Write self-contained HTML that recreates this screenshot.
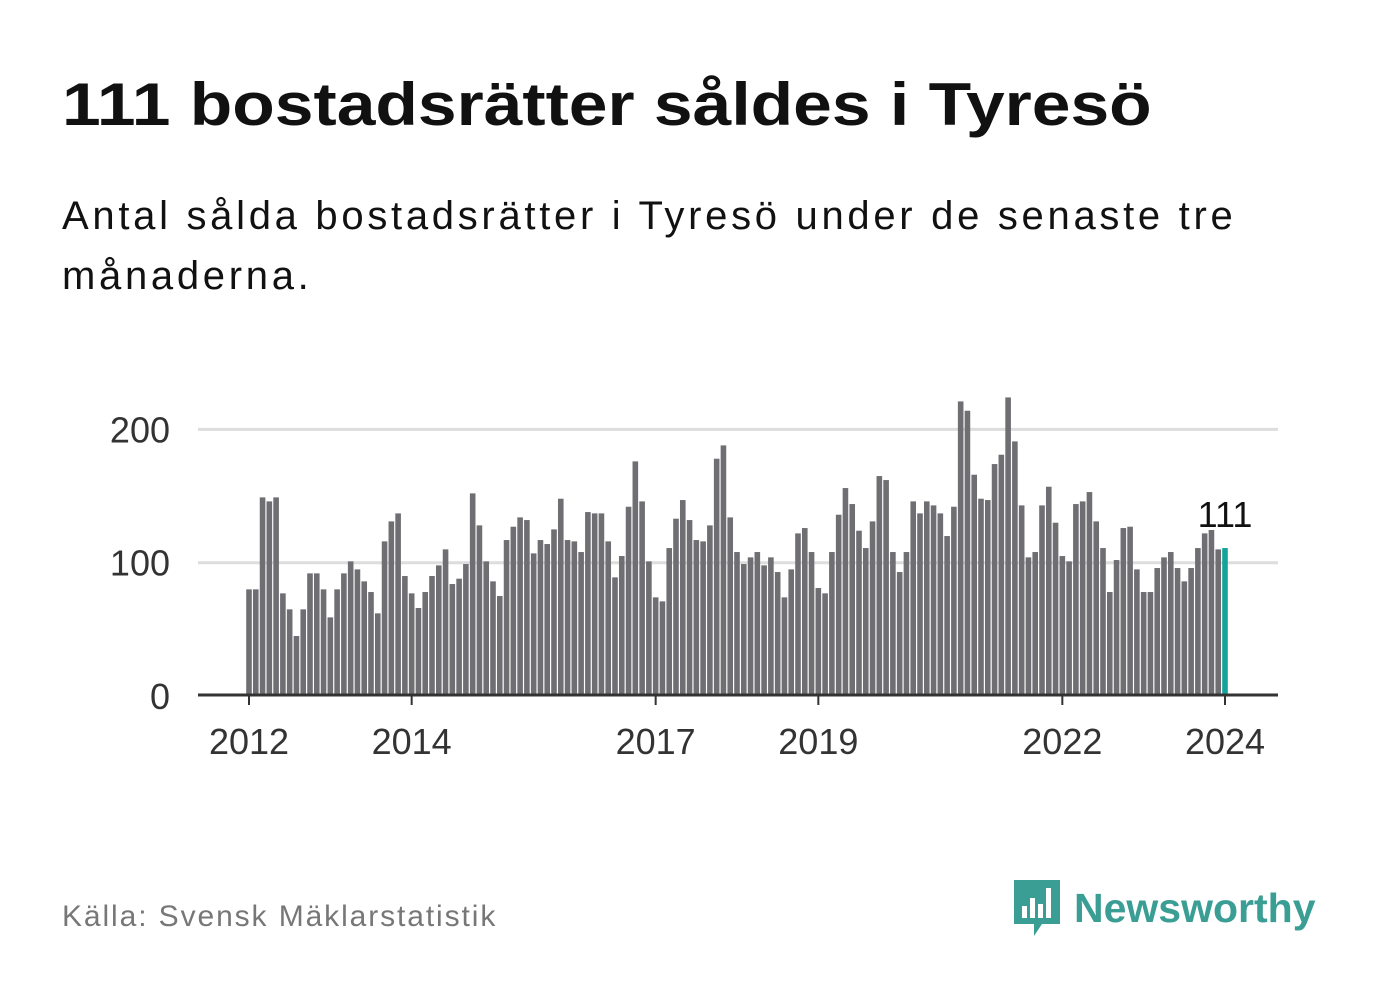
<!DOCTYPE html>
<html><head><meta charset="utf-8">
<style>
body{margin:0;width:1382px;height:999px;background:#fff;font-family:"Liberation Sans",sans-serif;overflow:hidden;position:relative}
.t{position:absolute;left:62px;top:70px;font-size:60px;font-weight:bold;color:#111;white-space:nowrap;transform:scaleX(1.16);transform-origin:0 0}
.s{position:absolute;left:62px;top:186px;font-size:40px;line-height:60px;color:#111;width:1300px;letter-spacing:3.7px}
.src{position:absolute;left:62px;top:900px;font-size:30px;color:#777;letter-spacing:1.9px}
.logo{position:absolute;left:1012px;top:878px;display:flex;align-items:center}
.logo span{font-size:41px;font-weight:bold;color:#3a9e94;margin-left:12px}
</style></head><body>
<div class="t">111 bostadsrätter såldes i Tyresö</div>
<div class="s">Antal sålda bostadsrätter i Tyresö under de senaste tre<br>månaderna.</div>
<svg id="chart" width="1382" height="999" style="position:absolute;left:0;top:0"></svg>
<div class="src">Källa: Svensk Mäklarstatistik</div>
<div class="logo">
<svg width="50" height="60"><path d="M2 2h46v44H30l-8 12v-12H2z" fill="#3a9e94"/><rect x="10" y="28" width="5" height="12" fill="#fff"/><rect x="18" y="20" width="5" height="20" fill="#fff"/><rect x="26" y="26" width="5" height="14" fill="#fff"/><rect x="34" y="10" width="5" height="30" fill="#fff"/></svg>
<span>Newsworthy</span></div>
<script>
const values=[80,80,149,146,149,77,65,45,65,92,92,80,59,80,92,101,95,86,78,62,116,131,137,90,77,66,78,90,98,110,84,88,99,152,128,101,86,75,117,127,134,132,107,117,114,125,148,117,116,108,
138,137,137,116,89,105,142,176,146,101,74,71,111,133,147,132,117,116,128,178,188,134,108,99,104,108,98,104,93,74,95,122,126,108,81,77,108,136,156,144,124,111,131,165,162,108,93,108,
146,137,146,143,137,120,142,221,214,166,148,147,174,181,224,191,143,104,108,143,157,130,105,101,144,146,153,131,111,78,102,126,127,95,78,78,96,104,108,96,86,96,111,122,130,110,111];
const startYear=2012;
const yTicks=[0,100,200];
const xTickYears=[2012,2014,2017,2019,2022,2024];
const svg=document.getElementById('chart');
const NS='http://www.w3.org/2000/svg';
const x0=249,pxMonth=(1225-249)/144;
const X=i=>x0+i*pxMonth;
const Y=v=>696-v*1.333;
function el(t,a){const e=document.createElementNS(NS,t);for(const k in a)e.setAttribute(k,a[k]);svg.appendChild(e);return e;}
yTicks.forEach(v=>{
 if(v>0){const g=el('line',{x1:198,x2:1278,y1:Y(v),y2:Y(v),stroke:'#ddd','stroke-width':3});
 
 }
 const t=el('text',{x:170,y:Y(v)+13,'text-anchor':'end','font-size':36,fill:'#333','font-family':'Liberation Sans'});
 t.textContent=v;
 
 
});
values.forEach((v,i)=>{
 const r=el('rect',{x:X(i)-2.8,y:Y(v),width:5.6,height:696-Y(v),fill:i===values.length-1?'#14a39a':'#6f6e72'});
 
 
});
const ax=el('line',{x1:198,x2:1278,y1:695,y2:695,stroke:'#333','stroke-width':3});


xTickYears.forEach(yr=>{
 const x=X((yr-startYear)*12);
 const tk=el('line',{x1:x,x2:x,y1:695,y2:705,stroke:'#333','stroke-width':2});
 
 
 const t=el('text',{x:x,y:754,'text-anchor':'middle','font-size':36,fill:'#333','font-family':'Liberation Sans'});
 t.textContent=yr;
 
 
});
const last=values.length-1;
const lbl=el('text',{x:X(last),y:527,'text-anchor':'middle','font-size':36,fill:'#111','font-family':'Liberation Sans',stroke:'#fff','stroke-width':6,'paint-order':'stroke'});
lbl.textContent=values[last];


</script>
</body></html>
